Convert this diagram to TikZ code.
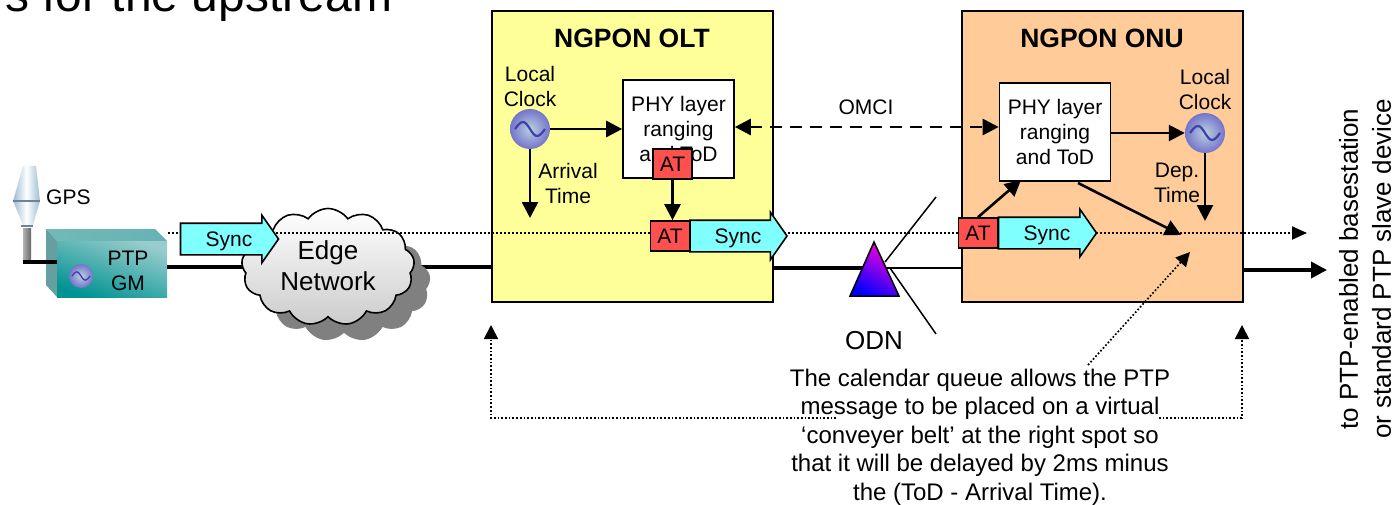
\documentclass[tikz,border=0pt]{standalone}
\usepackage{fontspec}
\setmainfont{Liberation Sans}
\usetikzlibrary{arrows.meta,shapes.arrows,shapes.symbols,shadows}
\definecolor{oltyellow}{HTML}{FFFF99}
\definecolor{onuorange}{HTML}{FFCC99}
\definecolor{synccyan}{HTML}{80FFFF}
\definecolor{atred}{HTML}{FF5050}
\definecolor{gpsblue}{HTML}{9DBDD3}
\pgfkeys{tikz/lbl/.style={font=\fontsize{21}{25}\selectfont, align=center, inner sep=0pt}}
\pgfkeys{tikz/title/.style={font=\fontsize{26.5}{30}\selectfont\bfseries, inner sep=0pt}}
\pgfkeys{tikz/unitbox/.style={draw=black, line width=2pt, minimum width=281pt, minimum height=291pt, inner sep=0pt}}
\pgfkeys{tikz/phybox/.style={lbl, draw=black, line width=1.6pt, fill=white, minimum width=111pt, minimum height=98pt}}
\pgfkeys{tikz/atbox/.style={lbl, draw=black, line width=1.6pt, fill=atred, minimum width=39pt, minimum height=30pt}}
\pgfkeys{tikz/syncarrow/.style={draw=black, line width=1.6pt, fill=synccyan, inner sep=0pt, text height=30pt, text depth=0pt, single arrow, single arrow head extend=8pt, single arrow tip angle=110, single arrow head indent=0pt, minimum height=98pt, label={[lbl,xshift=5pt,yshift=-2pt]center:Sync}}}
\pgfkeys{tikz/clockball/.style={circle, inner sep=0pt, minimum size=#1*40pt, inner color=gpsblue!70!white, outer color=blue!45!gray!75, path picture={\draw[line width=#1*2.2pt, blue!55!black!75] (-15pt*#1,0pt) sin (-7pt*#1,7pt*#1) cos (0pt,0pt) sin (7pt*#1,-7pt*#1) cos (15pt*#1,0pt);}}}
\pgfkeys{tikz/wire/.style={line width=3.5pt}}
\pgfkeys{tikz/feed/.style={line width=2.6pt, -{Triangle[length=16pt,width=16pt]}}}
\pgfkeys{tikz/dots/.style={line width=1.7pt, dash pattern=on 1.7pt off 2pt}}
\begin{document}
\begin{tikzpicture}[x=1pt,y=-1pt]
            \useasboundingbox (0,0) rectangle (1399,505);

            \node[anchor=base west, inner sep=0pt, font=\fontsize{48}{54}\selectfont] (head) at (5,12) {s for the upstream};

            \node[unitbox, fill=oltyellow] (olt) at (632.5,156.5) {};
            \node[unitbox, fill=onuorange] (onu) at (1102.5,156.5) {};
            \node[title] (olttitle) at (632,38) {NGPON OLT};
            \node[title] (onutitle) at (1102,38) {NGPON ONU};

            \shade[left color=gpsblue, right color=gpsblue, middle color=white] (23,166) -- (36,166) -- (40,201) -- (33,225) -- (23,225) -- (13,201) -- cycle;
            \fill[gpsblue!70!black] (13,200) -- (40,200) -- (40,202) -- (13,202) -- cycle;
            \fill[gpsblue!70!black] (21,225) rectangle (33,227);
            \shade[left color=gray!60, right color=black!60] (23,228) rectangle (31,262);
            \coordinate (pole) at (23,262);
            \node[lbl, anchor=west] (gps) at (46,197) {GPS};

            \shade[left color=teal!55!white, right color=teal!60!white] (46,229) -- (155,229) -- (167,241) -- (57,241) -- cycle;
            \fill[teal!60!gray!75] (46,229) -- (57,241) -- (57,297) -- (46,285) -- cycle;
            \node[lbl, minimum width=110pt, minimum height=56pt, inner sep=0pt, left color=teal!40!white, right color=teal!85!cyan, shading angle=-20] (gm) at (112,269) {};
            \node[lbl] (gmtext) at (128,270.5) {PTP\\GM};
            \node[clockball=0.6] (gmclock) at (81,276) {};
            \draw[wire] (pole) -- ([yshift=7pt]gm.west);

            \draw[wire] ([yshift=2pt]gm.east) -- ([yshift=2pt]olt.west |- gm.east);

            \node[cloud, cloud puffs=13, cloud puff arc=110, aspect=1.48, draw=black, line width=1.6pt, minimum width=173pt, minimum height=117pt, inner sep=0pt, top color=white, middle color=white, bottom color=black!20, drop shadow={shadow xshift=16pt, shadow yshift=-16pt, fill=black!50, opacity=1}] (edge) at (328,267) {};
            \node[font=\fontsize{26}{31}\selectfont, align=center, inner sep=0pt] (edgetext) at (328,266) {Edge\\Network};

            \coordinate (dotstart) at (168,233);
            \coordinate (dotend) at (1307,233);
            \draw[line width=2pt, dash pattern=on 2pt off 2pt, -{Triangle[length=15pt,width=13pt]}] (dotstart) -- (dotend);

            \node[syncarrow] (sync1) at (224,239) {};

            \node[clockball=1] (oltclock) at (530,129) {};
            \node[lbl, anchor=south] (oltclocktext) at (530,107) {Local\\Clock};
            \node[phybox] (oltphy) at (678.5,129) {PHY layer\\ranging\\and ToD};
            \node[lbl] (arrival) at (568,183) {Arrival\\Time};
            \coordinate (arrivalend) at (530,218);
            \node[atbox] (at1) at (672.5,164) {AT};
            \node[syncarrow, minimum height=97pt] (sync2) at (733,236) {};
            \node[atbox] (at2) at (670,236) {AT};

            \draw[feed] (oltclock) -- (oltclock -| oltphy.west);
            \draw[feed] (oltclock) -- (arrivalend);
            \draw[feed] (at1.south) -- (at1.south |- at2.north);

            \node[phybox] (onuphy) at (1055,132) {PHY layer\\ranging\\and ToD};
            \node[clockball=1] (onuclock) at (1205,133) {};
            \node[lbl, anchor=south] (onuclocktext) at (1205,110) {Local\\Clock};
            \node[lbl] (dep) at (1177,183) {Dep.\\Time};
            \node[syncarrow] (sync3) at (1042,233) {};
            \node[atbox] (at3) at (978,233) {AT};
            \coordinate (depend) at (1205,221);
            \coordinate (beltend) at (1181,235);

            \draw[feed] (onuphy.east |- onuclock) -- (onuclock);
            \draw[feed] (onuclock) -- (depend);
            \draw[feed] (at3.north) -- (1021,180);
            \draw[feed] (1078,183) -- (beltend);
            \draw[line width=2.6pt, dash pattern=on 12pt off 8pt, {Triangle[length=16pt,width=16pt]}-{Triangle[length=16pt,width=16pt]}] (oltphy.east |- 0,127) -- (onuphy.west |- 0,127);
            \node[lbl] (omci) at (866,107) {OMCI};

            \coordinate (odn) at (874,268);
            \coordinate (splitup) at (936,197);
            \coordinate (splitdown) at (936,334);
            \draw[wire] (olt.east |- odn) -- (odn);
            \draw[line width=1.5pt] (odn) -- (onu.west |- odn);
            \draw[line width=1.5pt] (885,262) -- (splitup);
            \draw[line width=1.5pt] (890,268) -- (splitdown);
            \shade[top color=magenta!85!red, middle color=magenta!55!blue, bottom color=blue, shading angle=-30] (874,242) -- (899,296) -- (850,296) -- cycle;
            \draw[line width=1.5pt] (874,242) -- (899,296) -- (850,296) -- cycle;
            \node[font=\fontsize{26}{30}\selectfont, inner sep=0pt] (odnlabel) at (874,341) {ODN};

            \coordinate (outend) at (1327,270);
            \draw[wire, -{Triangle[length=16pt,width=16pt]}] (onu.east |- outend) -- (outend);

            \node[rotate=90, align=center, inner sep=0pt, font=\fontsize{26}{33}\selectfont] (dest) at (1365,269) {to PTP-enabled basestation\\or standard PTP slave device};

            \node[align=center, inner sep=0pt, font=\fontsize{24}{28.6}\selectfont] (queue) at (980,437) {The calendar queue allows the PTP\\message to be placed on a virtual\\‘conveyer belt’ at the right spot so\\that it will be delayed by 2ms minus\\the (ToD - Arrival Time).};

            \coordinate (loopleft) at (491,325);
            \coordinate (loopright) at (1242,325);
            \coordinate (loopa) at (836,418);
            \coordinate (loopb) at (1159,418);
            \draw[dots, -{Triangle[length=14pt,width=14pt]}] (loopa) -- (loopleft |- loopa) -- (loopleft);
            \draw[dots, -{Triangle[length=14pt,width=14pt]}] (loopb) -- (loopright |- loopb) -- (loopright);
            \coordinate (queuestart) at (1088,365);
            \coordinate (queueend) at (1190,252);
            \draw[dots, -{Triangle[length=14pt,width=14pt]}] (queuestart) -- (queueend);
\end{tikzpicture}
\end{document}
